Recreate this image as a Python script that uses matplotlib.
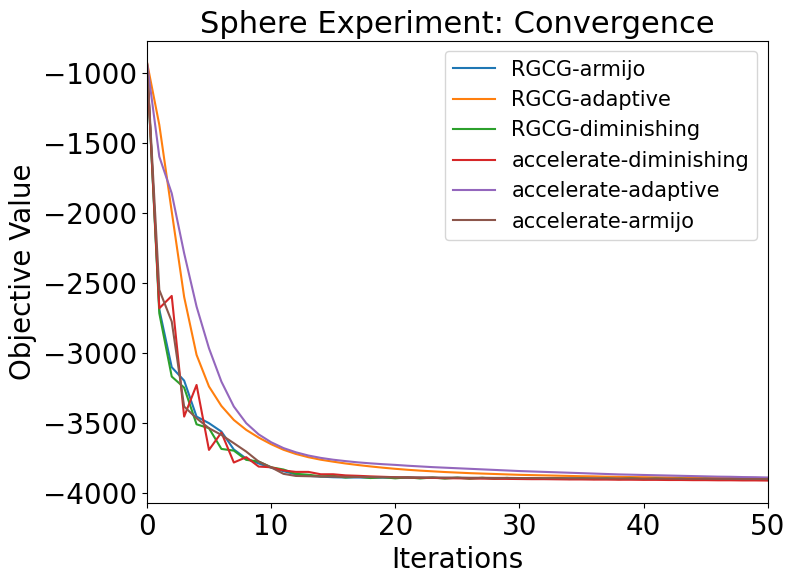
import matplotlib
matplotlib.use("Agg")
import matplotlib.pyplot as plt

iterations = list(range(51))

# values
rgcg_armijo = [-920, -2690, -3102, -3198, -3455, -3502, -3562, -3690, -3755, -3790,
               -3820, -3845, -3868, -3878, -3884, -3888, -3890, -3890, -3891, -3891,
               -3892, -3892, -3892, -3893, -3893, -3893, -3894, -3894, -3894, -3895,
               -3895, -3895, -3896, -3896, -3896, -3897, -3897, -3897, -3897, -3898,
               -3898, -3898, -3898, -3899, -3899, -3899, -3899, -3899, -3900, -3900, -3900]
rgcg_adaptive = [-920, -1371, -1990, -2600, -3014, -3240, -3379, -3479, -3550, -3605,
                 -3652, -3692, -3722, -3745, -3763, -3777, -3790, -3801, -3811, -3820,
                 -3828, -3835, -3841, -3846, -3851, -3855, -3859, -3862, -3865, -3868,
                 -3871, -3873, -3875, -3877, -3879, -3881, -3882, -3884, -3885, -3887,
                 -3888, -3889, -3890, -3891, -3892, -3893, -3894, -3895, -3896, -3897, -3898]
rgcg_diminishing = [-920, -2717, -3169, -3248, -3510, -3538, -3686, -3698, -3764, -3776,
                    -3817, -3833, -3864, -3870, -3882, -3878, -3890, -3884, -3894, -3888,
                    -3896, -3889, -3897, -3890, -3898, -3891, -3899, -3892, -3899, -3893,
                    -3900, -3894, -3900, -3895, -3901, -3896, -3901, -3897, -3902, -3897,
                    -3902, -3898, -3902, -3899, -3903, -3899, -3903, -3900, -3903, -3900, -3903]
acc_diminishing = [-920, -2681, -2593, -3455, -3229, -3693, -3569, -3783, -3745, -3812,
                   -3817, -3840, -3850, -3850, -3867, -3867, -3875, -3878, -3882, -3885,
                   -3888, -3890, -3892, -3893, -3895, -3896, -3897, -3898, -3899, -3900,
                   -3901, -3902, -3902, -3903, -3904, -3904, -3905, -3905, -3906, -3906,
                   -3907, -3907, -3908, -3908, -3909, -3909, -3910, -3910, -3911, -3911, -3912]
acc_adaptive = [-920, -1598, -1860, -2288, -2669, -2967, -3205, -3383, -3502, -3582,
                -3638, -3680, -3710, -3733, -3750, -3763, -3773, -3782, -3789, -3795,
                -3800, -3806, -3811, -3816, -3820, -3824, -3828, -3832, -3836, -3840,
                -3844, -3847, -3850, -3853, -3856, -3859, -3862, -3865, -3868, -3870,
                -3872, -3874, -3876, -3878, -3880, -3882, -3884, -3885, -3887, -3888, -3890]
acc_armijo = [-920, -2550, -2776, -3383, -3467, -3538, -3586, -3645, -3705, -3776,
              -3817, -3864, -3879, -3881, -3883, -3884, -3885, -3886, -3887, -3888,
              -3889, -3889, -3890, -3890, -3891, -3891, -3892, -3892, -3893, -3893,
              -3894, -3894, -3895, -3895, -3896, -3896, -3896, -3897, -3897, -3897,
              -3898, -3898, -3898, -3899, -3899, -3899, -3900, -3900, -3901, -3901, -3902]

series = [
    ("RGCG-armijo", rgcg_armijo),
    ("RGCG-adaptive", rgcg_adaptive),
    ("RGCG-diminishing", rgcg_diminishing),
    ("accelerate-diminishing", acc_diminishing),
    ("accelerate-adaptive", acc_adaptive),
    ("accelerate-armijo", acc_armijo),
]

fig = plt.figure(figsize=(7.94, 5.84), dpi=100)
ax = fig.add_axes([0.185, 0.139, 0.782, 0.791])

for name, vals in series:
    ax.plot(iterations, vals, label=name)

ax.set_xlim(0, 50)
ax.set_ylim(-4071, -771)
ax.set_title("Sphere Experiment: Convergence", fontsize=22)
ax.set_xlabel("Iterations", fontsize=20)
ax.set_ylabel("Objective Value", fontsize=20)
ax.tick_params(labelsize=20)
ax.legend(fontsize=15, loc="upper right")

fig.savefig("out.png", dpi=100)
